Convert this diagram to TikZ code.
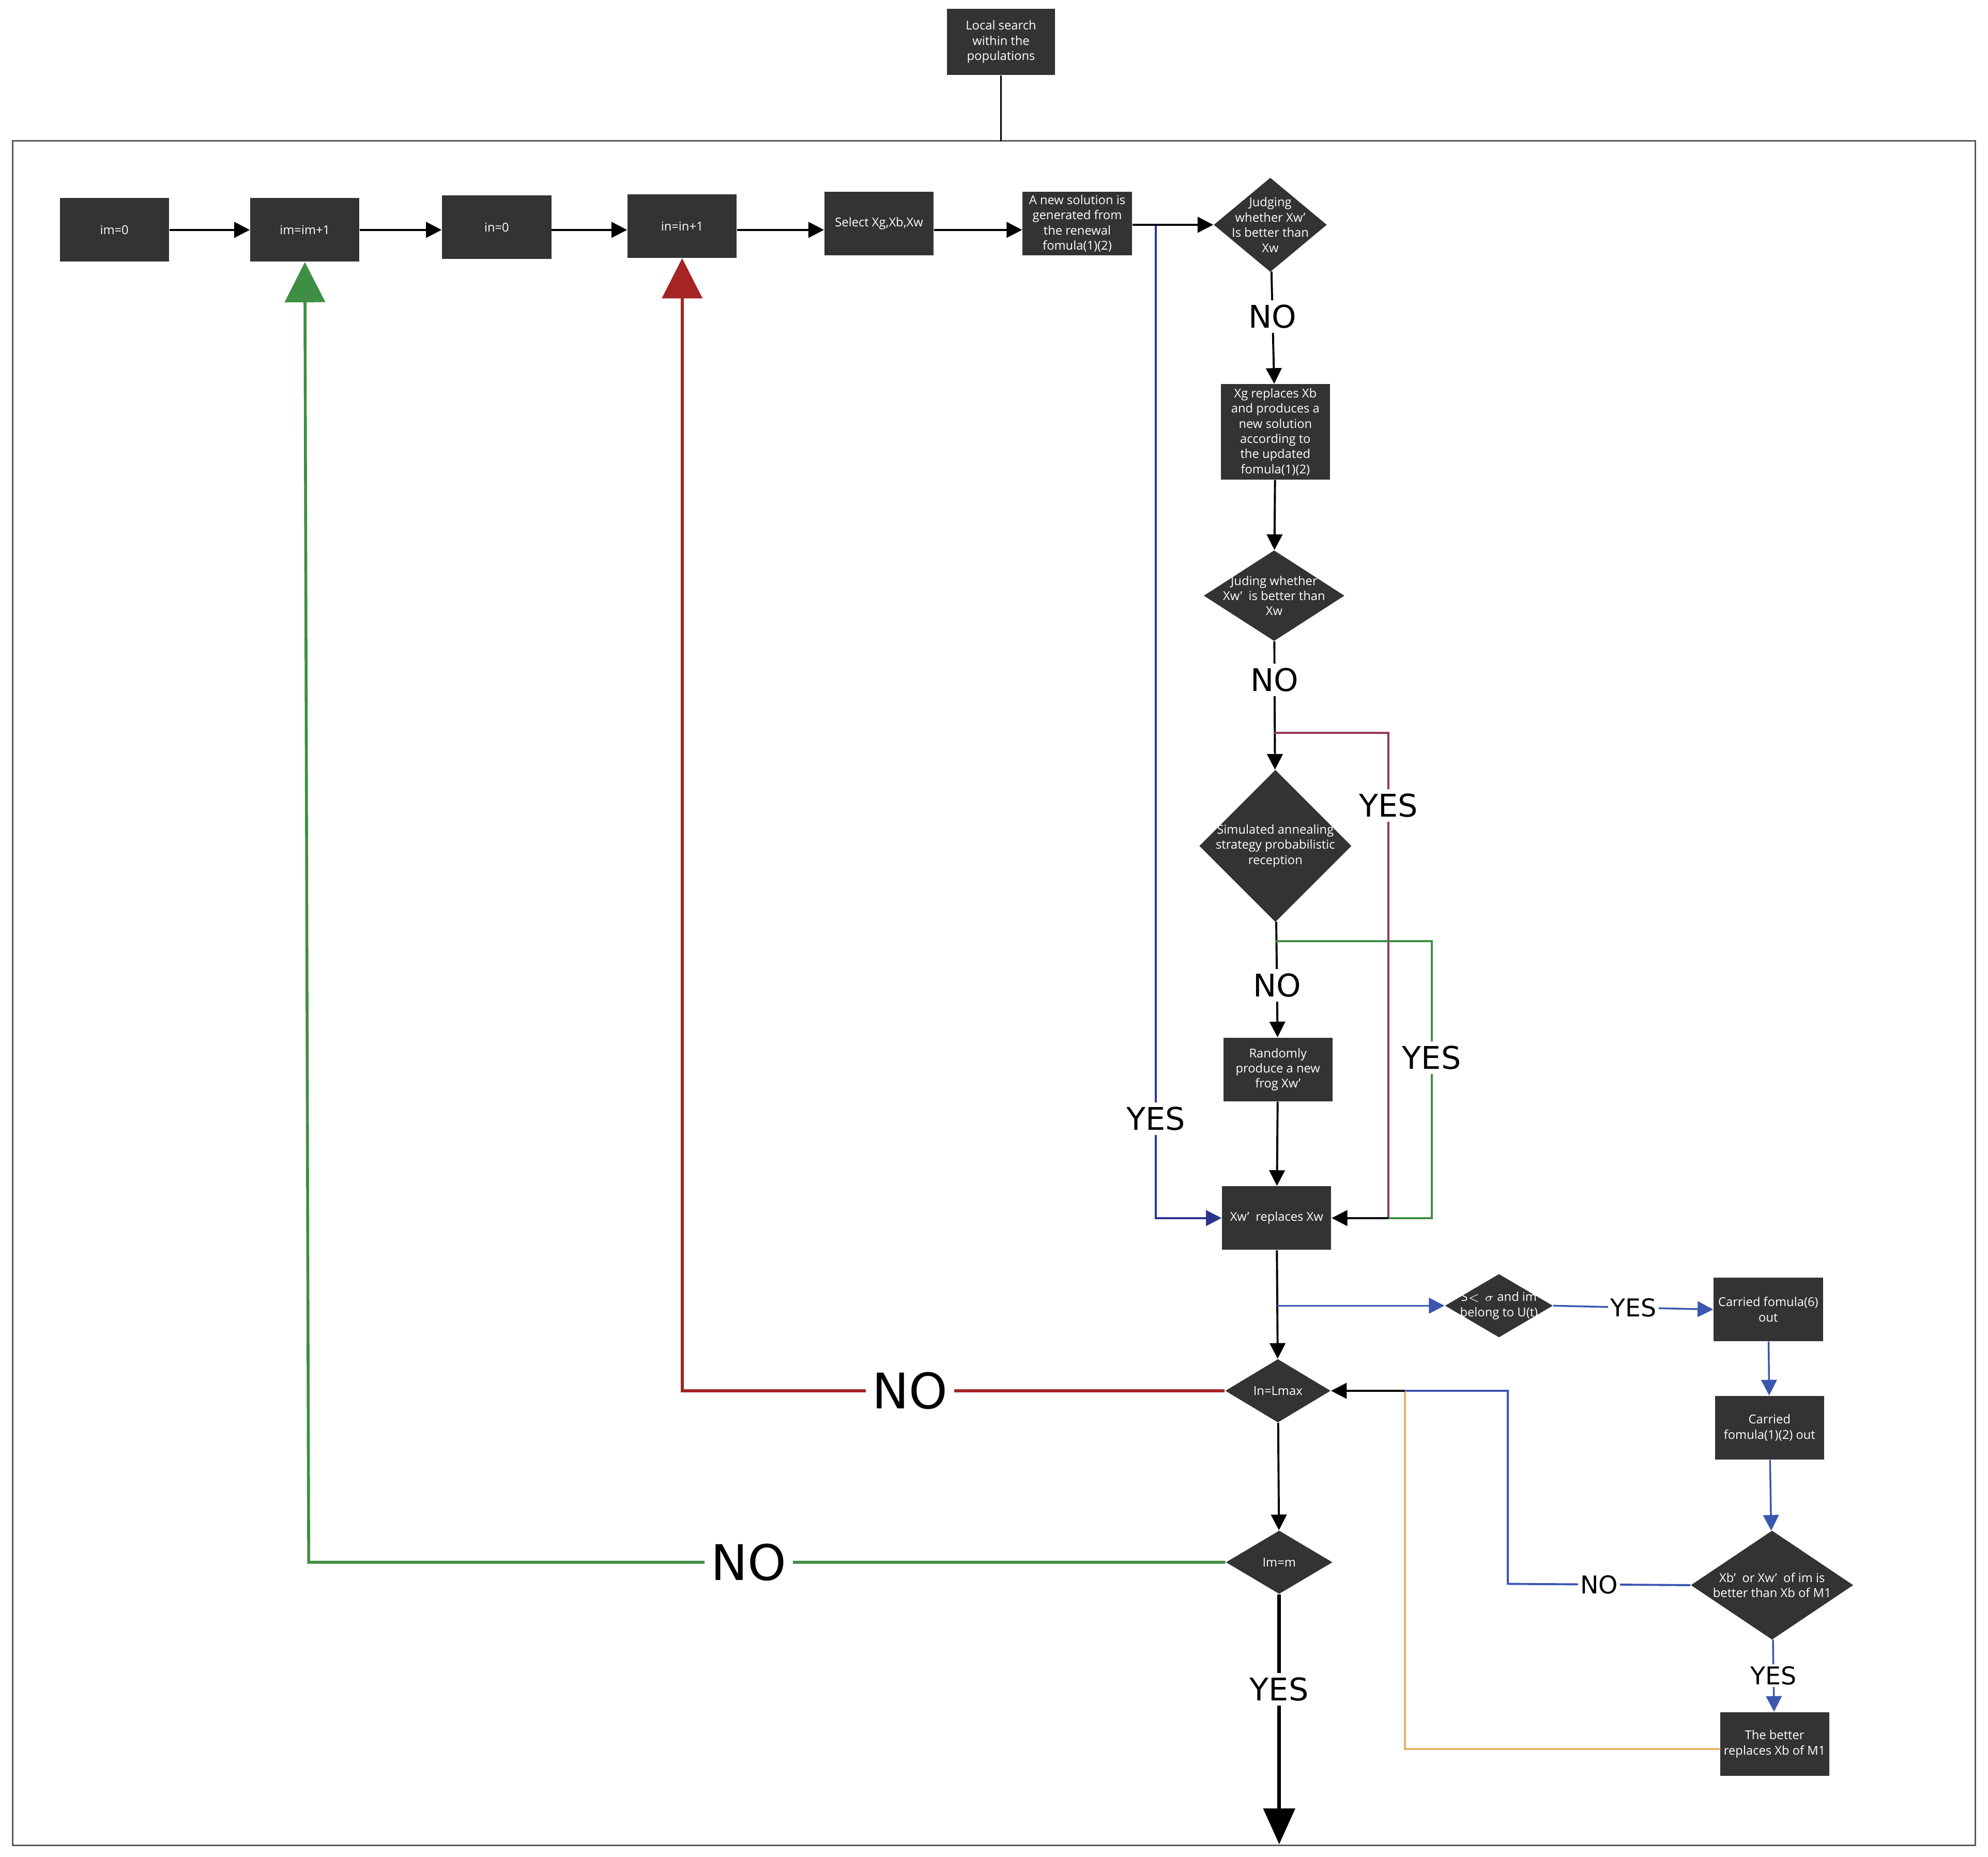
\documentclass[tikz,border=0pt]{standalone}
\usepackage{fontspec}
\setmainfont{Open Sans}
\newfontfamily\lblfont{DejaVu Sans}
\usetikzlibrary{shapes.geometric,arrows.meta}
\definecolor{boxgray}{HTML}{333333}
\definecolor{myblue}{HTML}{3A56B0}
\definecolor{mydarkblue}{HTML}{2B3590}
\definecolor{myred}{HTML}{A52525}
\definecolor{mygreen}{HTML}{3E8E44}
\definecolor{mypurple}{HTML}{993355}
\definecolor{myorange}{HTML}{E8B26A}
\begin{document}
\begin{tikzpicture}[x=0.02cm,y=-0.02cm,
  box/.style={rectangle,fill=boxgray,text=white,minimum width=1.72cm,minimum height=1cm,
    align=center,font=\fontsize{5.5}{6.8}\selectfont,inner sep=1pt},
  dia/.style={diamond,fill=boxgray,text=white,aspect=#1,align=center,
    font=\fontsize{5.5}{6.8}\selectfont,inner sep=0pt},
  lbl/.style={fill=white,font=\lblfont\fontsize{14}{14}\selectfont,inner sep=2pt},
  biglbl/.style={fill=white,font=\lblfont\fontsize{22}{22}\selectfont,inner sep=3pt},
  smlbl/.style={fill=white,font=\lblfont\fontsize{11}{11}\selectfont,inner sep=1pt},
  arr/.style={-{Triangle[length=7pt,width=7pt]},line width=0.9pt},
  line/.style={line width=0.9pt}]
\useasboundingbox (0,0) rectangle (1565,1462);
\draw[line width=0.6pt,gray!70!black] (10,111) rectangle (1555,1453);

% top row
\node[box,minimum height=1.04cm,minimum width=1.7cm] (top) at (788,33) {Local search\\within the\\populations};
\coordinate (topin) at (788,111);
\node[box] (im0) at (90,181) {im=0};
\node[box] (imp) at (240,181) {im=im+1};
\node[box] (in0) at (391,179) {in=0};
\node[box] (inp) at (537,178) {in=in+1};
\node[box] (sel) at (692,176) {Select Xg,Xb,Xw};
\node[box] (gen) at (848,176) {A new solution is\\generated from\\the renewal\\fomula(1)(2)};
\node[dia=1.2,minimum width=1.7cm,minimum height=1.4cm,inner sep=-3pt] (j1) at (1000,177) {Judging\\whether Xw'\\Is better than\\Xw};

% middle column
\node[box,minimum height=1.5cm] (xg) at (1004,340) {Xg replaces Xb\\and produces a\\new solution\\according to\\the updated\\fomula(1)(2)};
\node[dia=1.55,minimum width=2.2cm,minimum height=1.42cm,inner sep=-2pt] (j2) at (1003,469) {Juding whether\\Xw'\ \ is better than\\Xw};
\node[dia=1,minimum width=2.4cm,minimum height=2.4cm,inner sep=-3pt] (sa) at (1004,666) {Simulated annealing\\strategy probabilistic\\reception};
\node[box] (rnd) at (1006,842) {Randomly\\produce a new\\frog Xw'};
\node[box] (rep) at (1005,959) {Xw'\ \ replaces Xw};
\node[dia=1.65,minimum width=1.66cm,minimum height=1cm] (lmax) at (1006,1095) {In=Lmax};
\node[dia=1.65,minimum width=1.68cm,minimum height=1cm] (imm) at (1007,1230) {Im=m};
\coordinate (endp) at (1007,1452);

% right column
\node[dia=1.65,minimum width=1.7cm,minimum height=1cm,inner sep=-2pt] (sig) at (1180,1028) {S$<\sigma$ and im\\belong to U(t)};
\node[box] (c6) at (1392,1031) {Carried fomula(6)\\out};
\node[box] (c12) at (1393,1124) {Carried\\fomula(1)(2) out};
\node[dia=1.5,minimum width=2.56cm,minimum height=1.72cm,inner sep=-2pt] (xb) at (1395,1248) {Xb'\ \ or Xw'\ \ of im is\\better than Xb of M1};
\node[box] (bet) at (1397,1373) {The better\\replaces Xb of M1};

% main flow
\draw[line] (top) -- (topin);
\draw[arr] (im0.east |- 90,181) -- (imp.west |- 90,181);
\draw[arr] (imp.east |- 90,181) -- (in0.west |- 90,181);
\draw[arr] (in0.east |- 90,181) -- (inp.west |- 90,181);
\draw[arr] (inp.east |- 90,181) -- (sel.west |- 90,181);
\draw[arr] (sel.east |- 90,181) -- (gen.west |- 90,181);
\draw[arr] (gen.east |- j1) -- (j1);
\draw[arr] (j1) -- node[lbl,pos=0.4]{NO} (xg);
\draw[arr] (xg) -- (j2);
\draw[arr] (j2) -- node[lbl,pos=0.3]{NO} (sa);
\draw[arr] (sa) -- node[lbl,pos=0.55]{NO} (rnd);
\draw[arr] (rnd) -- (rep);
\draw[arr] (rep) -- (lmax);
\draw[arr] (lmax) -- (imm);
\draw[-{Triangle[length=16pt,width=14pt]},line width=1.6pt] (imm) -- node[lbl,pos=0.38]{YES} (endp);

% loops back
\draw[mydarkblue,arr] (910,178) -- (910,959) node[lbl,text=black,pos=0.9]{YES} -- (rep.west);
\draw[mypurple,line] (1003,577) -- (1093,577) -- node[lbl,text=black,pos=0.15]{YES} (1093,959);
\draw[mygreen,line] (1004,741) -- (1127,741) -- node[lbl,text=black,pos=0.42]{YES} (1127,959) -- (1093,959);
\draw[arr] (1093,959) -- (rep.east);
\draw[myred,line width=1.3pt,-{Triangle[length=18pt,width=18pt]}] (lmax.west) -- node[biglbl,text=black,pos=0.58]{NO} (537,1095) -- (inp.south);
\draw[mygreen,line width=1.3pt,-{Triangle[length=18pt,width=18pt]}] (imm.west) -- node[biglbl,text=black,pos=0.52]{NO} (243,1230) -- (imp.south);

% right side
\draw[myblue,arr,line width=0.8pt] (1005,1028) -- (sig.west);
\draw[myblue,arr,line width=0.8pt] (sig.east) -- node[smlbl,text=black]{YES} (c6.west);
\draw[myblue,arr,line width=0.8pt] (c6) -- (c12);
\draw[myblue,arr,line width=0.8pt] (c12) -- (xb);
\draw[myblue,arr,line width=0.8pt] (xb) -- node[smlbl,text=black]{YES} (bet);
\draw[myblue,line width=0.9pt] (xb.west) -- node[smlbl,text=black,pos=0.5]{NO} (1187,1247) -- (1187,1095) -- (1106,1095);
\draw[myorange,line width=0.9pt] (bet.west |- 1,1377) -- (1106,1377) -- (1106,1095);
\draw[arr] (1106,1095) -- (lmax.east);
\end{tikzpicture}
\end{document}
